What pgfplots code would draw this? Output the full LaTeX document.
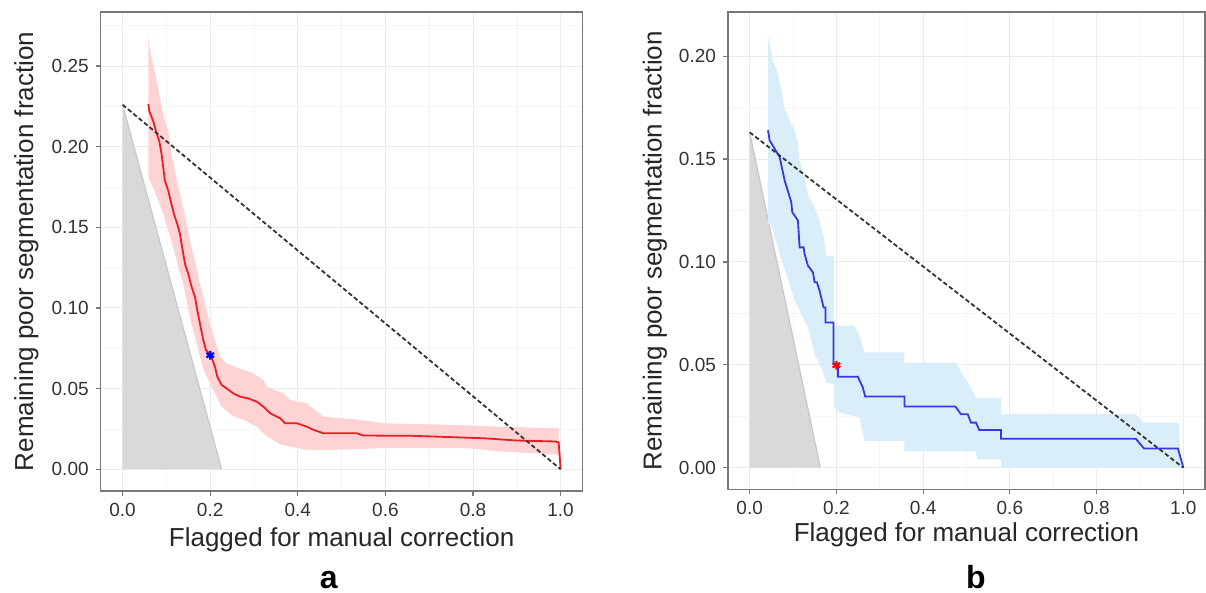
\documentclass[border=0pt]{standalone}
\usepackage{fontspec}
\setmainfont{Liberation Sans}
\usepackage{pgfplots}
\pgfplotsset{compat=1.18}
\definecolor{redline}{RGB}{235,30,35}
\definecolor{pinkrib}{RGB}{255,210,212}
\definecolor{blueline}{RGB}{55,55,230}
\definecolor{bluerib}{RGB}{217,238,248}
\definecolor{trigray}{RGB}{217,217,217}
\definecolor{triedge}{RGB}{200,200,200}
\definecolor{framegray}{RGB}{120,120,120}
\pgfplotsset{
  panel/.style={
    scale only axis, anchor=south west,
    axis line style={draw=framegray, line width=0.6bp},
    tick align=outside, major tick length=2.5bp, minor tick length=0pt,
    xtick pos=bottom, ytick pos=left,
    tick style={draw=framegray, line width=0.6bp},
    xmin=-0.05, xmax=1.05,
    xtick={0,0.2,0.4,0.6,0.8,1.0},
    minor xtick={0.1,0.3,0.5,0.7,0.9},
    xmajorgrids, ymajorgrids, xminorgrids, yminorgrids,
    major grid style={draw=black!8, line width=0.5bp},
    minor grid style={draw=black!4, line width=0.3bp},
    scaled ticks=false,
    /pgf/number format/assume math mode=true,
    ticklabel style={font=\fontsize{9.5bp}{11bp}\selectfont, text=black!80},
    xticklabel style={/pgf/number format/fixed, /pgf/number format/fixed zerofill, /pgf/number format/precision=1},
    yticklabel style={/pgf/number format/fixed, /pgf/number format/fixed zerofill, /pgf/number format/precision=2},
  }
}
\begin{document}
\begin{tikzpicture}
\path[use as bounding box] (0,0) rectangle (603bp,296.5bp);
% ---------------- panel a ----------------
\begin{axis}[panel, at={(50.35bp,51bp)}, width=240.9bp, height=239.5bp,
  ymin=-0.0135, ymax=0.2835,
  ytick={0,0.05,0.10,0.15,0.20,0.25},
  minor ytick={0.025,0.075,0.125,0.175,0.225,0.275}]
\addplot[fill=trigray, draw=none] coordinates {(0,0) (0,0.226) (0.226,0)} --cycle;
\addplot[draw=triedge, line width=0.6bp] coordinates {(0,0.226) (0.226,0)};
\addplot[fill=pinkrib, draw=none] coordinates {
(0.0587,0.2693)(0.0625,0.2590)(0.0701,0.2508)(0.0777,0.2405)(0.0853,0.2302)(0.0929,0.2199)(0.1044,0.2096)(0.1120,0.1952)(0.1196,0.1849)(0.1310,0.1705)(0.1386,0.1623)(0.1478,0.1499)(0.1554,0.1396)(0.1653,0.1293)(0.1767,0.1149)(0.1881,0.1026)(0.1996,0.0902)(0.2110,0.0799)(0.2224,0.0697)(0.2377,0.0655)(0.2681,0.0625)(0.2986,0.0594)(0.3215,0.0553)(0.3291,0.0512)(0.3672,0.0470)(0.3824,0.0429)(0.4205,0.0409)(0.4586,0.0326)(0.5424,0.0306)(0.5957,0.0285)(0.7480,0.0275)(0.8623,0.0264)(0.9880,0.0254)(0.9956,0.0254)
(0.9956,0.0089)(0.9385,0.0100)(0.8623,0.0110)(0.7861,0.0131)(0.5957,0.0131)(0.4814,0.0120)(0.4205,0.0120)(0.3634,0.0151)(0.3291,0.0203)(0.3062,0.0264)(0.2757,0.0306)(0.2491,0.0336)(0.2262,0.0388)(0.2110,0.0470)(0.1996,0.0532)(0.1881,0.0594)(0.1767,0.0697)(0.1653,0.0820)(0.1554,0.0923)(0.1478,0.1026)(0.1386,0.1149)(0.1272,0.1252)(0.1158,0.1376)(0.1044,0.1479)(0.0929,0.1582)(0.0815,0.1664)(0.0701,0.1746)(0.0587,0.1808)} --cycle;
\addplot[draw=redline, line width=0.9bp] coordinates {
(0.0587,0.2265)(0.0609,0.2220)(0.0701,0.2158)(0.0762,0.2096)(0.0838,0.2034)(0.0891,0.1952)(0.0929,0.1870)(0.0967,0.1787)(0.1044,0.1726)(0.1097,0.1664)(0.1173,0.1582)(0.1249,0.1520)(0.1310,0.1458)(0.1348,0.1396)(0.1386,0.1334)(0.1424,0.1273)(0.1501,0.1211)(0.1577,0.1129)(0.1653,0.1067)(0.1706,0.0985)(0.1767,0.0902)(0.1844,0.0799)(0.1905,0.0738)(0.2011,0.0707)(0.2110,0.0635)(0.2163,0.0573)(0.2262,0.0522)(0.2377,0.0501)(0.2529,0.0470)(0.2681,0.0450)(0.2872,0.0439)(0.3062,0.0419)(0.3215,0.0388)(0.3367,0.0347)(0.3595,0.0316)(0.3710,0.0285)(0.3976,0.0285)(0.4205,0.0264)(0.4357,0.0244)(0.4586,0.0223)(0.5347,0.0223)(0.5500,0.0209)(0.6642,0.0207)(0.8242,0.0192)(0.9004,0.0178)(0.9880,0.0172)(0.9956,0.0166)(1.0,0)};
\addplot[draw=black!80, line width=0.9bp, dash pattern=on 2.2bp off 1.3bp] coordinates {(0,0.226) (1,0)};
\addplot[only marks, mark=asterisk, mark size=2.2bp, draw=blue, line width=1.1bp] coordinates {(0.2,0.0707)};
\end{axis}
% ---------------- panel b ----------------
\begin{axis}[panel, at={(364bp,51.85bp)}, width=238.5bp, height=238.65bp,
  ymin=-0.0105, ymax=0.2215,
  ytick={0,0.05,0.10,0.15,0.20},
  minor ytick={0.025,0.075,0.125,0.175}]
\addplot[fill=trigray, draw=none] coordinates {(0,0) (0,0.163) (0.163,0)} --cycle;
\addplot[draw=triedge, line width=0.6bp] coordinates {(0,0.163) (0.163,0)};
\addplot[fill=bluerib, draw=none] coordinates {
(0.0422,0.2102)(0.0460,0.2054)(0.0537,0.1981)(0.0652,0.1916)(0.0729,0.1834)(0.0806,0.1745)(0.0921,0.1688)(0.1036,0.1640)(0.1113,0.1575)(0.1151,0.1494)(0.1266,0.1412)(0.1343,0.1323)(0.1497,0.1266)(0.1612,0.1201)(0.1704,0.1120)(0.1765,0.1031)(0.1934,0.1031)(0.1934,0.0698)(0.1995,0.0690)(0.2418,0.0690)(0.2533,0.0641)(0.2648,0.0560)(0.3569,0.0560)(0.3569,0.0511)(0.4758,0.0511)(0.4912,0.0455)(0.5050,0.0406)(0.5219,0.0341)(0.5794,0.0341)(0.5794,0.0260)(0.8903,0.0260)(0.9094,0.0219)(0.9900,0.0219)(0.9939,0)
(0.5794,0)(0.5794,0.0041)(0.5257,0.0041)(0.5203,0.0081)(0.3569,0.0081)(0.3569,0.0130)(0.2648,0.0130)(0.2533,0.0244)(0.2072,0.0268)(0.1934,0.0300)(0.1934,0.0406)(0.1765,0.0414)(0.1650,0.0487)(0.1497,0.0552)(0.1343,0.0682)(0.1190,0.0747)(0.1036,0.0812)(0.0921,0.0893)(0.0806,0.0966)(0.0691,0.1039)(0.0576,0.1120)(0.0499,0.1177)(0.0422,0.1185)} --cycle;
\addplot[draw=blueline, line width=0.9bp] coordinates {
(0.0422,0.1640)(0.0460,0.1591)(0.0576,0.1550)(0.0691,0.1510)(0.0806,0.1396)(0.0959,0.1291)(0.0982,0.1242)(0.1113,0.1201)(0.1151,0.1071)(0.1243,0.1071)(0.1266,0.1039)(0.1343,0.0982)(0.1458,0.0950)(0.1497,0.0901)(0.1550,0.0901)(0.1612,0.0860)(0.1704,0.0779)(0.1750,0.0779)(0.1750,0.0706)(0.1934,0.0706)(0.1934,0.0503)(0.1995,0.0498)(0.2034,0.0487)(0.2034,0.0442)(0.2494,0.0442)(0.2609,0.0390)(0.2663,0.0346)(0.3569,0.0346)(0.3569,0.0297)(0.4743,0.0297)(0.4873,0.0260)(0.5027,0.0260)(0.5104,0.0219)(0.5219,0.0219)(0.5295,0.0183)(0.5794,0.0183)(0.5794,0.0141)(0.8903,0.0141)(0.9094,0.0093)(0.9877,0.0093)(1.0,0)};
\addplot[draw=black!80, line width=0.9bp, dash pattern=on 2.2bp off 1.3bp] coordinates {(0,0.163) (1,0)};
\addplot[only marks, mark=asterisk, mark size=2.2bp, draw=red, line width=1.1bp] coordinates {(0.2,0.0498)};
\end{axis}
% ---------------- labels ----------------
\node[anchor=base, font=\fontsize{13bp}{15bp}\selectfont, text=black!85] at (170.8bp,23.5bp) {Flagged for manual correction};
\node[anchor=base, font=\fontsize{13bp}{15bp}\selectfont, text=black!85] at (483.25bp,25.6bp) {Flagged for manual correction};
\node[anchor=base, rotate=90, font=\fontsize{13bp}{15bp}\selectfont, text=black!85] at (16.5bp,170.75bp) {Remaining poor segmentation fraction};
\node[anchor=base, rotate=90, font=\fontsize{13bp}{15bp}\selectfont, text=black!85] at (330.8bp,171.15bp) {Remaining poor segmentation fraction};
\node[anchor=base, font=\bfseries\fontsize{16bp}{18bp}\selectfont] at (164.4bp,2.2bp) {a};
\node[anchor=base, font=\bfseries\fontsize{16bp}{18bp}\selectfont] at (488bp,2.2bp) {b};
\end{tikzpicture}
\end{document}
